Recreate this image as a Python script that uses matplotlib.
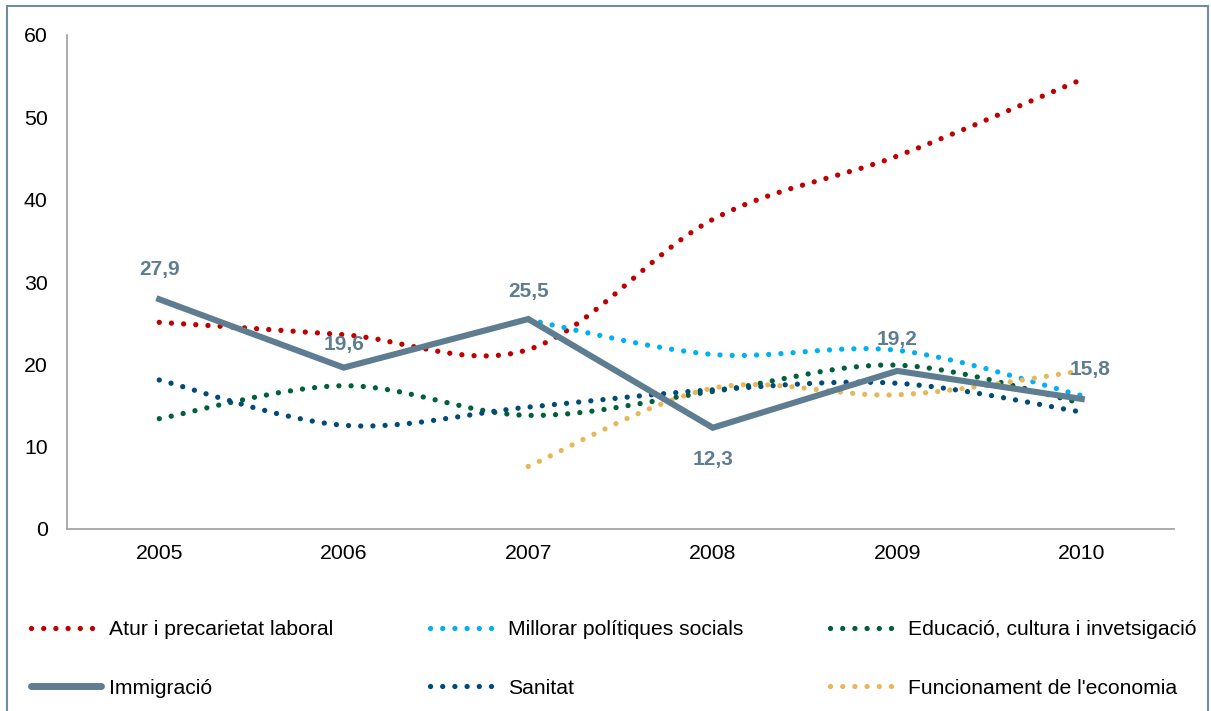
import numpy as np
import matplotlib
matplotlib.use("Agg")
import matplotlib.pyplot as plt
from matplotlib.path import Path
from matplotlib.patches import PathPatch, Rectangle
from matplotlib.lines import Line2D

plt.rcParams['font.family'] = ['Liberation Sans', 'DejaVu Sans']

years = [2005, 2006, 2007, 2008, 2009, 2010]
atur = [25.1, 23.6, 21.8, 37.6, 45.3, 54.6]
millorar = [np.nan, np.nan, 25.4, 21.2, 21.7, 16.2]
educacio = [13.4, 17.4, 13.8, 16.7, 19.9, 15.3]
immigracio = [27.9, 19.6, 25.5, 12.3, 19.2, 15.8]
sanitat = [18.1, 12.6, 14.8, 16.9, 17.7, 14.2]
funcionament = [np.nan, np.nan, 7.6, 17.1, 16.3, 19.2]
immig_labels = ["27,9", "19,6", "25,5", "12,3", "19,2", "15,8"]

names = ["Atur i precarietat laboral", "Millorar polítiques socials",
         "Educació, cultura i invetsigació", "Immigració", "Sanitat",
         "Funcionament de l'economia"]
colors = ["#C00000", "#00B0F0", "#00603A", "#5E7D90", "#004B7A", "#E6B85C"]

DOT = (0, (0.01, 2.3))
DOT_LW = 3.8


def smooth_path(x, y):
    # excel-like smoothed line: catmull-rom turned into cubic beziers
    pts = np.column_stack([x, y])
    verts = [pts[0]]
    codes = [Path.MOVETO]
    n = len(pts)
    for i in range(n - 1):
        p0 = pts[max(i - 1, 0)]
        p1 = pts[i]
        p2 = pts[i + 1]
        p3 = pts[min(i + 2, n - 1)]
        verts += [p1 + (p2 - p0) / 6, p2 - (p3 - p1) / 6, p2]
        codes += [Path.CURVE4] * 3
    return Path(verts, codes)


def dotted_series(ax, vals, color):
    x = np.array(years, dtype=float)
    y = np.array(vals, dtype=float)
    ok = ~np.isnan(y)
    patch = PathPatch(smooth_path(x[ok], y[ok]), transform=ax.transData,
                      fill=False, edgecolor=color, linewidth=DOT_LW,
                      linestyle=DOT, capstyle='round', joinstyle='round')
    ax.add_patch(patch)


fig = plt.figure(figsize=(12.11, 7.11), dpi=100)
ax = fig.add_axes([67 / 1211, 1 - 529 / 711, (1174 - 67) / 1211, (529 - 35) / 711])

series = [atur, millorar, educacio, immigracio, sanitat, funcionament]
for vals, color, name in zip(series, colors, names):
    if name == "Immigració":
        ax.plot(years, vals, color=color, linewidth=4.4, solid_joinstyle='miter')
    else:
        dotted_series(ax, vals, color)

offsets = [(0, 30), (0, 23), (0, 28), (0, -32), (0, 31), (8, 29)]
for xv, yv, lab, off in zip(years, immigracio, immig_labels, offsets):
    ax.annotate(lab, (xv, yv), xytext=off, textcoords='offset pixels',
                ha='center', va='center', fontsize=15, fontweight='bold',
                color=colors[3])

ax.set_xlim(2004.5, 2010.5)
ax.set_ylim(0, 60)
ax.set_xticks(years)
ax.set_yticks(range(0, 61, 10))
ax.tick_params(length=0, labelsize=15.3, colors='black')
ax.tick_params(axis='y', pad=14)
ax.tick_params(axis='x', pad=11)
for s in ['top', 'right']:
    ax.spines[s].set_visible(False)
for s in ['left', 'bottom']:
    ax.spines[s].set_color('#A6A6A6')
    ax.spines[s].set_linewidth(1.3)

# legend: three columns, two rows
handles = []
for name, color in zip(names, colors):
    if name == "Immigració":
        handles.append(Line2D([], [], color=color, linewidth=5,
                              solid_capstyle='round'))
    else:
        handles.append(Line2D([], [], color=color, linewidth=DOT_LW,
                              linestyle=DOT, dash_capstyle='round'))

col_x = [31, 430, 830]
for c in range(3):
    idx = [c, c + 3]
    fig.legend([handles[i] for i in idx], [names[i] for i in idx],
               loc='upper left', bbox_to_anchor=(col_x[c] / 1211, 1 - 620 / 711),
               frameon=False, fontsize=15.2, handlelength=3.3,
               handletextpad=0.38, labelspacing=1.88, borderpad=0,
               borderaxespad=0)

fig.patches.append(Rectangle((7 / 1211, -0.01), 1201 / 1211, 1 - 6 / 711 + 0.01,
                             transform=fig.transFigure, fill=False,
                             edgecolor='#6E8CA3', linewidth=1.5))

fig.savefig("out.png", dpi=100)
